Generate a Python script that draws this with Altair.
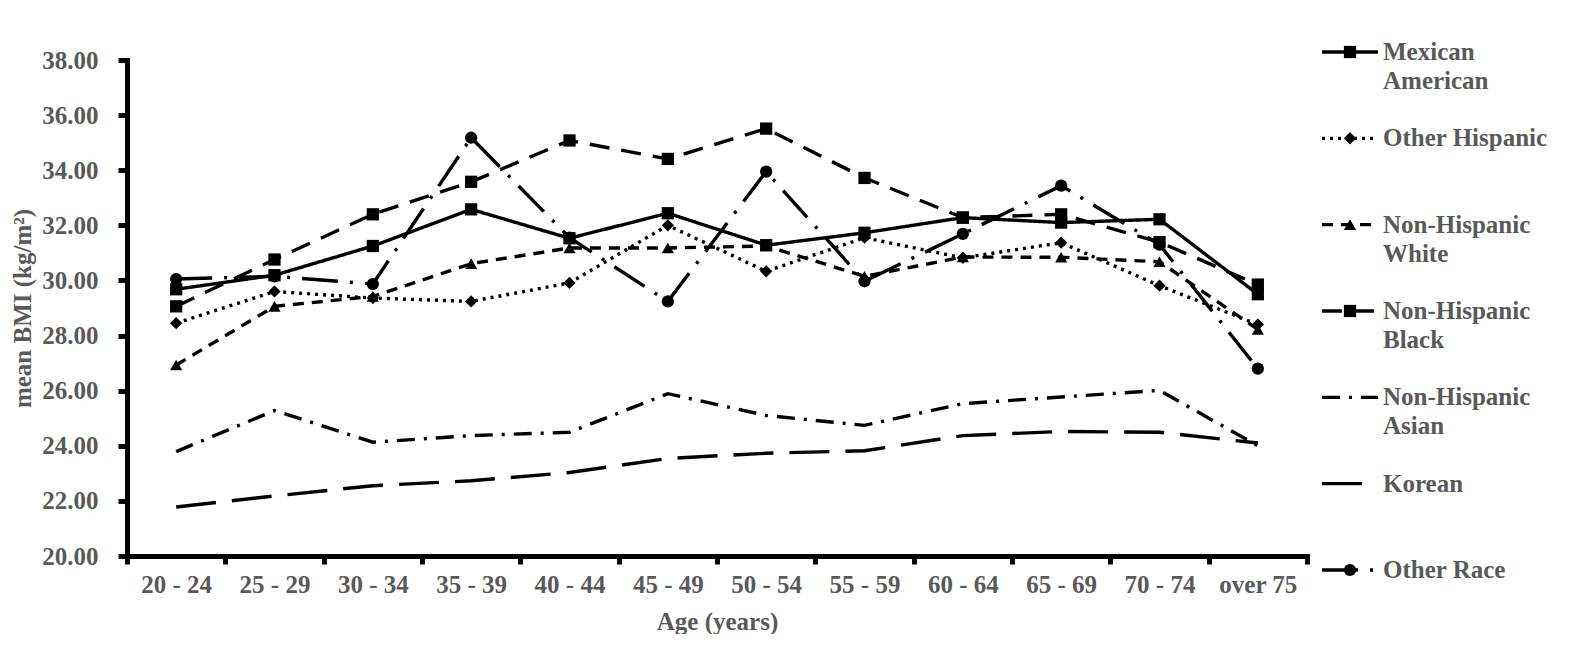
import altair as alt
import pandas as pd

ages = ["20 - 24", "25 - 29", "30 - 34", "35 - 39", "40 - 44", "45 - 49",
        "50 - 54", "55 - 59", "60 - 64", "65 - 69", "70 - 74", "over 75"]

series = ["Mexican American", "Other Hispanic", "Non-Hispanic White",
          "Non-Hispanic Black", "Non-Hispanic Asian", "Korean", "Other Race"]
legend_labels = ["Mexican\nAmerican", "Other Hispanic", "Non-Hispanic\nWhite",
                 "Non-Hispanic\nBlack", "Non-Hispanic\nAsian", "Korean", "Other Race"]

mexican_american = [29.68, 30.19, 31.25, 32.58, 31.53, 32.44, 31.28, 31.73, 32.28, 32.10, 32.22, 29.50]
other_hispanic = [28.45, 29.60, 29.36, 29.24, 29.91, 32.00, 30.33, 31.55, 30.82, 31.37, 29.81, 28.40]
nh_white = [26.93, 29.06, 29.42, 30.61, 31.18, 31.18, 31.25, 30.15, 30.85, 30.84, 30.68, 28.22]
nh_black = [29.06, 30.76, 32.40, 33.58, 35.08, 34.41, 35.51, 33.72, 32.28, 32.40, 31.39, 29.85]
nh_asian = [23.79, 25.28, 24.13, 24.37, 24.49, 25.89, 25.10, 24.74, 25.53, 25.77, 26.01, 24.00]
korean = [21.78, 22.18, 22.55, 22.73, 23.03, 23.54, 23.73, 23.82, 24.37, 24.52, 24.49, 24.10]
other_race = [30.05, 30.15, 29.87, 35.18, 31.55, 29.24, 33.95, 29.97, 31.69, 33.44, 31.30, 26.80]

values = [mexican_american, other_hispanic, nh_white, nh_black, nh_asian, korean, other_race]

dashes = [[1, 0], [3, 5], [11, 8], [20, 12], [18, 9, 3, 9], [40, 16], [36, 12, 3, 12]]
marker_series = ["Mexican American", "Other Hispanic", "Non-Hispanic White",
                 "Non-Hispanic Black", "Other Race"]
marker_shapes = ["square", "diamond", "triangle-up", "square", "circle"]
y_ticks = [20, 22, 24, 26, 28, 30, 32, 34, 36, 38]

rows = []
for name, vals in zip(series, values):
    for a, v in zip(ages, vals):
        rows.append({"age": a, "series": name, "bmi": v})
df = pd.DataFrame(rows)
leg_df = pd.DataFrame({"series": series, "label": legend_labels})

FONT = "Liberation Serif"
GRAY = "#595959"

x = alt.X("age:N", sort=ages,
          scale=alt.Scale(type="band", paddingInner=0, paddingOuter=0),
          axis=alt.Axis(title="Age (years)", labelAngle=0, tickBand="extent",
                        tickSize=8, labelPadding=8, titlePadding=12))
y = alt.Y("bmi:Q", scale=alt.Scale(domain=[20, 38], nice=False, zero=False),
          axis=alt.Axis(title="mean BMI (kg/m²)", values=y_ticks, format=".2f",
                        tickSize=9, labelPadding=20, titlePadding=6))
dash = alt.StrokeDash("series:N", scale=alt.Scale(domain=series, range=dashes), legend=None)
shape = alt.Shape("series:N", scale=alt.Scale(domain=marker_series, range=marker_shapes), legend=None)
marker_filter = alt.FieldOneOfPredicate(field="series", oneOf=marker_series)

lines = alt.Chart(df).mark_line(color="black", strokeWidth=3.4).encode(x=x, y=y, strokeDash=dash)
points = alt.Chart(df).transform_filter(marker_filter).mark_point(
    filled=True, size=150, color="black", opacity=1).encode(x=x, y=y, shape=shape)
main = alt.layer(lines, points).properties(width=1180, height=496)

ly = alt.Y("series:N", scale=alt.Scale(type="point", domain=series, range=[-8, 510], padding=0), axis=None)
lrule = alt.Chart(leg_df).mark_rule(color="black", strokeWidth=3.4).encode(
    x=alt.value(5), x2=alt.value(61), y=ly, strokeDash=dash)
lpoint = alt.Chart(leg_df).transform_filter(marker_filter).mark_point(
    filled=True, size=150, color="black", opacity=1).encode(x=alt.value(33), y=ly, shape=shape)
ltext = alt.Chart(leg_df).mark_text(
    align="left", baseline="alphabetic", dy=8, lineBreak="\n", lineHeight=29,
    font=FONT, fontSize=25, fontWeight="bold", color=GRAY).encode(
    x=alt.value(66), y=ly, text="label:N")
legend = alt.layer(lrule, lpoint, ltext).properties(width=240, height=496)

chart = alt.hconcat(main, legend, spacing=10, bounds="flush").properties(
    padding={"left": 2, "top": 32, "right": 0, "bottom": 0},
).configure_view(stroke=None).configure_axis(
    grid=False, domainColor="black", domainWidth=5, domainCap="square",
    tickColor="black", tickWidth=5,
    labelFont=FONT, labelFontSize=25, labelFontWeight="bold", labelColor=GRAY,
    titleFont=FONT, titleFontSize=25, titleFontWeight="bold", titleColor=GRAY,
)

chart.save("out.html", embed_options={"renderer": "svg", "actions": False})
